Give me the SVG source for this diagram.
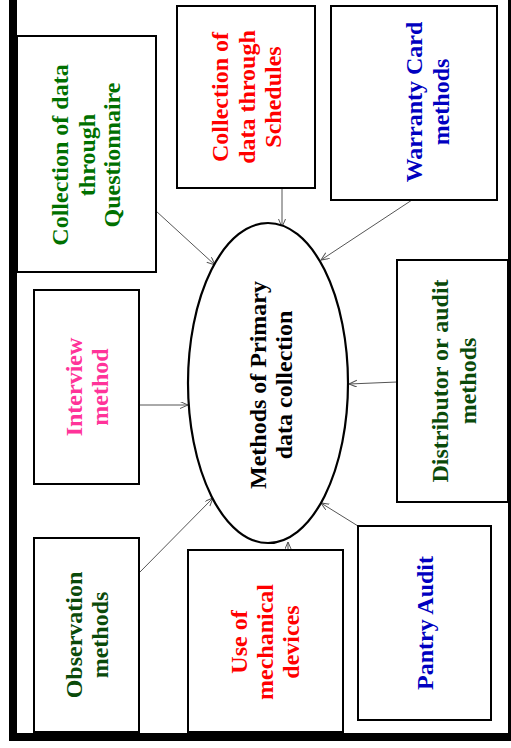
<svg xmlns="http://www.w3.org/2000/svg" width="511" height="748" viewBox="0 0 511 748">
  <style>
    .box { fill: #ffffff; stroke: #000000; stroke-width: 2; }
    .hub { fill: #ffffff; stroke: #000000; stroke-width: 2.2; }
    .lbl { font-family: "Liberation Serif", "Times New Roman", serif; font-weight: bold; font-size: 24px; text-anchor: middle; }
    .edge { stroke: #555555; stroke-width: 1; fill: none; marker-end: url(#arrow); }
    .green { fill: #007000; }
    .dkgreen { fill: #0a4a0a; }
    .red { fill: #ff0000; }
    .blue { fill: #0000c0; }
    .pink { fill: #ff3399; }
    .black { fill: #000000; }
  </style>
  <defs>
    <marker id="arrow" markerWidth="10" markerHeight="10" refX="8" refY="3.5" orient="auto" markerUnits="userSpaceOnUse">
      <path d="M0,0 L8,3.5 L0,7" fill="none" stroke="#555555" stroke-width="1"/>
    </marker>
  </defs>

  <rect width="511" height="748" fill="#ffffff"/>

  <!-- page frame -->
  <g id="frame">
    <rect x="9" y="0" width="8" height="741" fill="#000000"/>
    <rect x="9" y="733" width="502" height="8" fill="#000000"/>
    <rect x="508" y="0" width="3" height="741" fill="#000000"/>
  </g>

  <!-- connectors -->
  <g id="connectors">
    <line class="edge" x1="156" y1="211" x2="215" y2="265"/>
    <line class="edge" x1="282" y1="188" x2="282" y2="227"/>
    <line class="edge" x1="412" y1="200" x2="321" y2="260"/>
    <line class="edge" x1="139" y1="405" x2="188" y2="405"/>
    <line class="edge" x1="397" y1="382" x2="349" y2="384"/>
    <line class="edge" x1="139" y1="573" x2="213" y2="498"/>
    <line class="edge" x1="288" y1="550" x2="288" y2="542"/>
    <line class="edge" x1="358" y1="526" x2="321" y2="503"/>
  </g>

  <!-- central node -->
  <g id="hub">
    <ellipse class="hub" cx="268" cy="383" rx="80" ry="160"/>
    <text class="lbl black" transform="translate(266,385) rotate(-90)">Methods of Primary</text>
    <text class="lbl black" transform="translate(292,385) rotate(-90)">data collection</text>
  </g>

  <g id="questionnaire">
    <rect class="box" x="17" y="36" width="139" height="236"/>
    <text class="lbl green" transform="translate(68,155) rotate(-90)">Collection of data</text>
    <text class="lbl green" transform="translate(95,155) rotate(-90)">through</text>
    <text class="lbl green" transform="translate(120,155) rotate(-90)">Questionnaire</text>
  </g>

  <g id="schedules">
    <rect class="box" x="177" y="6" width="138" height="182"/>
    <text class="lbl red" transform="translate(228,97) rotate(-90)">Collection of</text>
    <text class="lbl red" transform="translate(254.5,97) rotate(-90)">data through</text>
    <text class="lbl red" transform="translate(281,97) rotate(-90)">Schedules</text>
  </g>

  <g id="warranty">
    <rect class="box" x="331" y="6" width="166" height="194"/>
    <text class="lbl blue" transform="translate(422,102) rotate(-90)">Warranty Card</text>
    <text class="lbl blue" transform="translate(449,102) rotate(-90)">methods</text>
  </g>

  <g id="interview">
    <rect class="box" x="34" y="290" width="105" height="194"/>
    <text class="lbl pink" transform="translate(82,387) rotate(-90)">Interview</text>
    <text class="lbl pink" transform="translate(108,387) rotate(-90)">method</text>
  </g>

  <g id="distributor">
    <rect class="box" x="397" y="260" width="111" height="242"/>
    <text class="lbl dkgreen" transform="translate(448,381) rotate(-90)">Distributor or audit</text>
    <text class="lbl dkgreen" transform="translate(476,381) rotate(-90)">methods</text>
  </g>

  <g id="observation">
    <rect class="box" x="34" y="538" width="105" height="194"/>
    <text class="lbl dkgreen" transform="translate(82,635) rotate(-90)">Observation</text>
    <text class="lbl dkgreen" transform="translate(108,635) rotate(-90)">methods</text>
  </g>

  <g id="mechanical">
    <rect class="box" x="188" y="550" width="155" height="182"/>
    <text class="lbl red" transform="translate(247,642) rotate(-90)">Use of</text>
    <text class="lbl red" transform="translate(273,642) rotate(-90)">mechanical</text>
    <text class="lbl red" transform="translate(299,642) rotate(-90)">devices</text>
  </g>

  <g id="pantry">
    <rect class="box" x="358" y="526" width="133" height="194"/>
    <text class="lbl blue" transform="translate(433,623) rotate(-90)">Pantry Audit</text>
  </g>
</svg>
